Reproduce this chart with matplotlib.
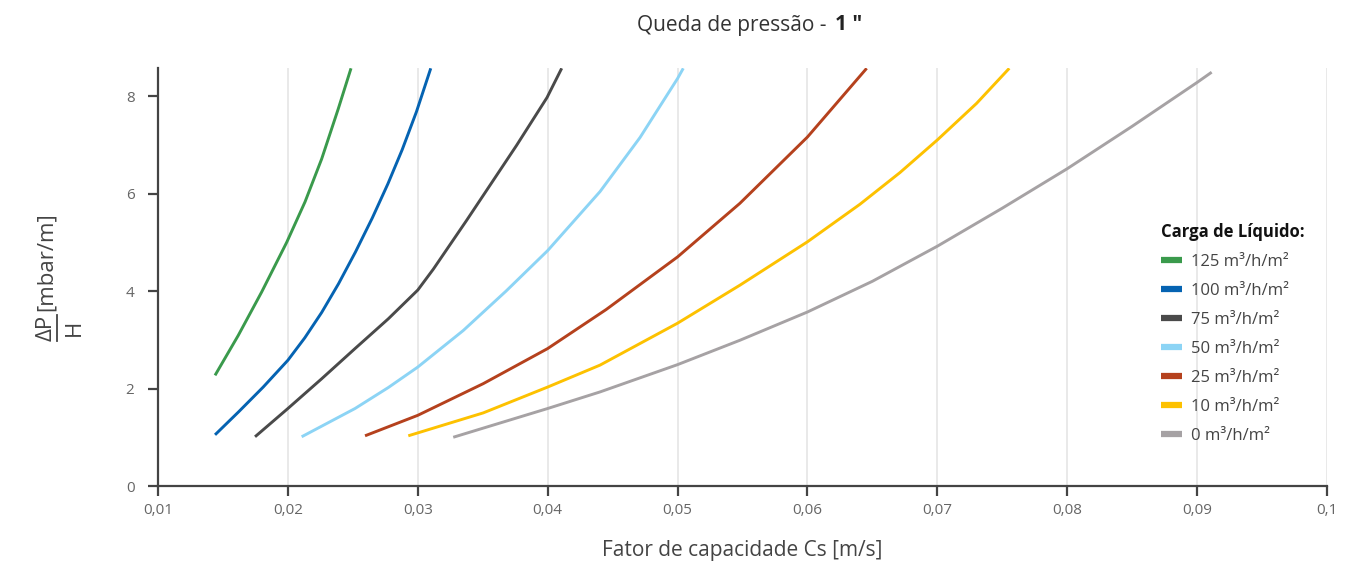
import matplotlib
matplotlib.use("Agg")
import matplotlib.pyplot as plt
from matplotlib import font_manager
from matplotlib.lines import Line2D

available = {f.name for f in font_manager.fontManager.ttflist}
FONT = next(n for n in ["Liberation Sans Narrow", "Open Sans", "DejaVu Sans"] if n in available)
plt.rcParams["font.family"] = [FONT, "DejaVu Sans"]

# data
x_125 = [0.01439, 0.01618, 0.01798, 0.01991, 0.02132, 0.02260, 0.02388, 0.02486]
y_125 = [2.27, 3.09, 3.98, 5.00, 5.83, 6.71, 7.74, 8.57]

x_100 = [0.01439, 0.0162, 0.0181, 0.0200, 0.0213, 0.0226, 0.0239, 0.0252, 0.0265, 0.0277, 0.0288, 0.0299, 0.0310]
y_100 = [1.05, 1.52, 2.03, 2.58, 3.04, 3.56, 4.15, 4.80, 5.50, 6.20, 6.90, 7.68, 8.57]

x_75 = [0.01747, 0.02000, 0.02260, 0.02517, 0.02773, 0.03000, 0.03120, 0.03376, 0.03761, 0.03995, 0.04108]
y_75 = [1.01, 1.59, 2.20, 2.82, 3.43, 4.02, 4.45, 5.45, 6.99, 7.97, 8.57]

x_50 = [0.02106, 0.02517, 0.02773, 0.03000, 0.03350, 0.03680, 0.04000, 0.04403, 0.04711, 0.05000, 0.05044]
y_50 = [1.01, 1.59, 2.02, 2.44, 3.19, 4.00, 4.83, 6.04, 7.15, 8.36, 8.57]

x_25 = [0.02594, 0.03000, 0.03504, 0.04000, 0.04450, 0.05000, 0.05480, 0.06000, 0.06456]
y_25 = [1.03, 1.45, 2.10, 2.82, 3.62, 4.70, 5.80, 7.16, 8.57]

x_10 = [0.02927, 0.03504, 0.04000, 0.04403, 0.05000, 0.05480, 0.06000, 0.06404, 0.06712, 0.07000, 0.07302, 0.07554]
y_10 = [1.03, 1.50, 2.03, 2.48, 3.34, 4.12, 5.01, 5.78, 6.43, 7.10, 7.85, 8.57]

x_0 = [0.03273, 0.04000, 0.04403, 0.05000, 0.05480, 0.06000, 0.06500, 0.07000, 0.07500, 0.08000, 0.08500, 0.09000, 0.09112]
y_0 = [1.00, 1.59, 1.93, 2.49, 2.99, 3.57, 4.20, 4.92, 5.70, 6.51, 7.38, 8.28, 8.49]

series = [
    ("125 m³/h/m²", x_125, y_125, "#3a9a4c"),
    ("100 m³/h/m²", x_100, y_100, "#0563b2"),
    ("75 m³/h/m²", x_75, y_75, "#4a4a4a"),
    ("50 m³/h/m²", x_50, y_50, "#8cd4f5"),
    ("25 m³/h/m²", x_25, y_25, "#b5411d"),
    ("10 m³/h/m²", x_10, y_10, "#fdc100"),
    ("0 m³/h/m²", x_0, y_0, "#a6a2a4"),
]

x_ticks = [0.01, 0.02, 0.03, 0.04, 0.05, 0.06, 0.07, 0.08, 0.09, 0.1]
x_tick_labels = ["0,01", "0,02", "0,03", "0,04", "0,05", "0,06", "0,07", "0,08", "0,09", "0,1"]
y_ticks = [0, 2, 4, 6, 8]

W, H = 1364, 565
fig = plt.figure(figsize=(W / 100, H / 100), dpi=100)
ax = fig.add_axes([158 / W, 1 - 486 / H, (1327 - 158) / W, (486 - 68.3) / H])

for label, xs, ys, color in series:
    ax.plot(xs, ys, color=color, lw=2.1, label=label, solid_capstyle="butt", solid_joinstyle="round")

ax.set_xlim(0.01, 0.1)
ax.set_ylim(0, 8.57)
ax.set_xticks(x_ticks)
ax.set_xticklabels(x_tick_labels)
ax.set_yticks(y_ticks)
ax.grid(axis="x", color="#e3e3e3", lw=1.1)
ax.set_axisbelow(True)

for side in ["top", "right"]:
    ax.spines[side].set_visible(False)
for side in ["left", "bottom"]:
    ax.spines[side].set_color("#444444")
    ax.spines[side].set_linewidth(1.6)
ax.tick_params(axis="both", colors="#444444", width=1.6, length=7, labelsize=11, labelcolor="#666666")
ax.tick_params(axis="x", pad=5)
ax.tick_params(axis="y", pad=10)

ax.set_xlabel("Fator de capacidade Cs [m/s]", fontsize=15, color="#444444", labelpad=16)

# title in two parts, second one bold
fig.text(832 / W, 1 - 25 / H, "Queda de pressão - ", ha="right", va="center", fontsize=15, color="#333333")
fig.text(835 / W, 1 - 25 / H, "1 ″", ha="left", va="center", fontsize=15, color="#222222", fontweight="bold")

# y label as a fraction: dP / H [mbar/m]
dp = fig.text(52 / W, 1 - 341 / H, "ΔP", rotation=90, rotation_mode="anchor", ha="left", va="baseline",
              fontsize=16, color="#444444")
fig.canvas.draw()
bb = dp.get_window_extent().transformed(fig.transFigure.inverted())
fig.text(52 / W, bb.y1 + 4 / H, "[mbar/m]", rotation=90, rotation_mode="anchor", ha="left", va="baseline",
         fontsize=16, color="#444444")
fig.add_artist(Line2D([57 / W, 57 / W], [bb.y0, bb.y1], transform=fig.transFigure, color="#444444", lw=1.3))
fig.text(74 / W, (bb.y0 + bb.y1) / 2, "H", rotation=90, ha="center", va="center", fontsize=16, color="#444444")

leg = ax.legend(loc="upper left", bbox_to_anchor=(1146 / W, 1 - 208 / H), bbox_transform=fig.transFigure,
                frameon=False, title="Carga de Líquido:", fontsize=12, handlelength=1.25, handletextpad=0.55,
                labelspacing=0.78, alignment="left")
leg.get_title().set_fontweight("bold")
leg.get_title().set_fontsize(12)
leg.get_title().set_color("#111111")
for t in leg.get_texts():
    t.set_color("#444444")
for h in leg.legend_handles:
    h.set_linewidth(4.5)

fig.savefig("out.png", dpi=100)
